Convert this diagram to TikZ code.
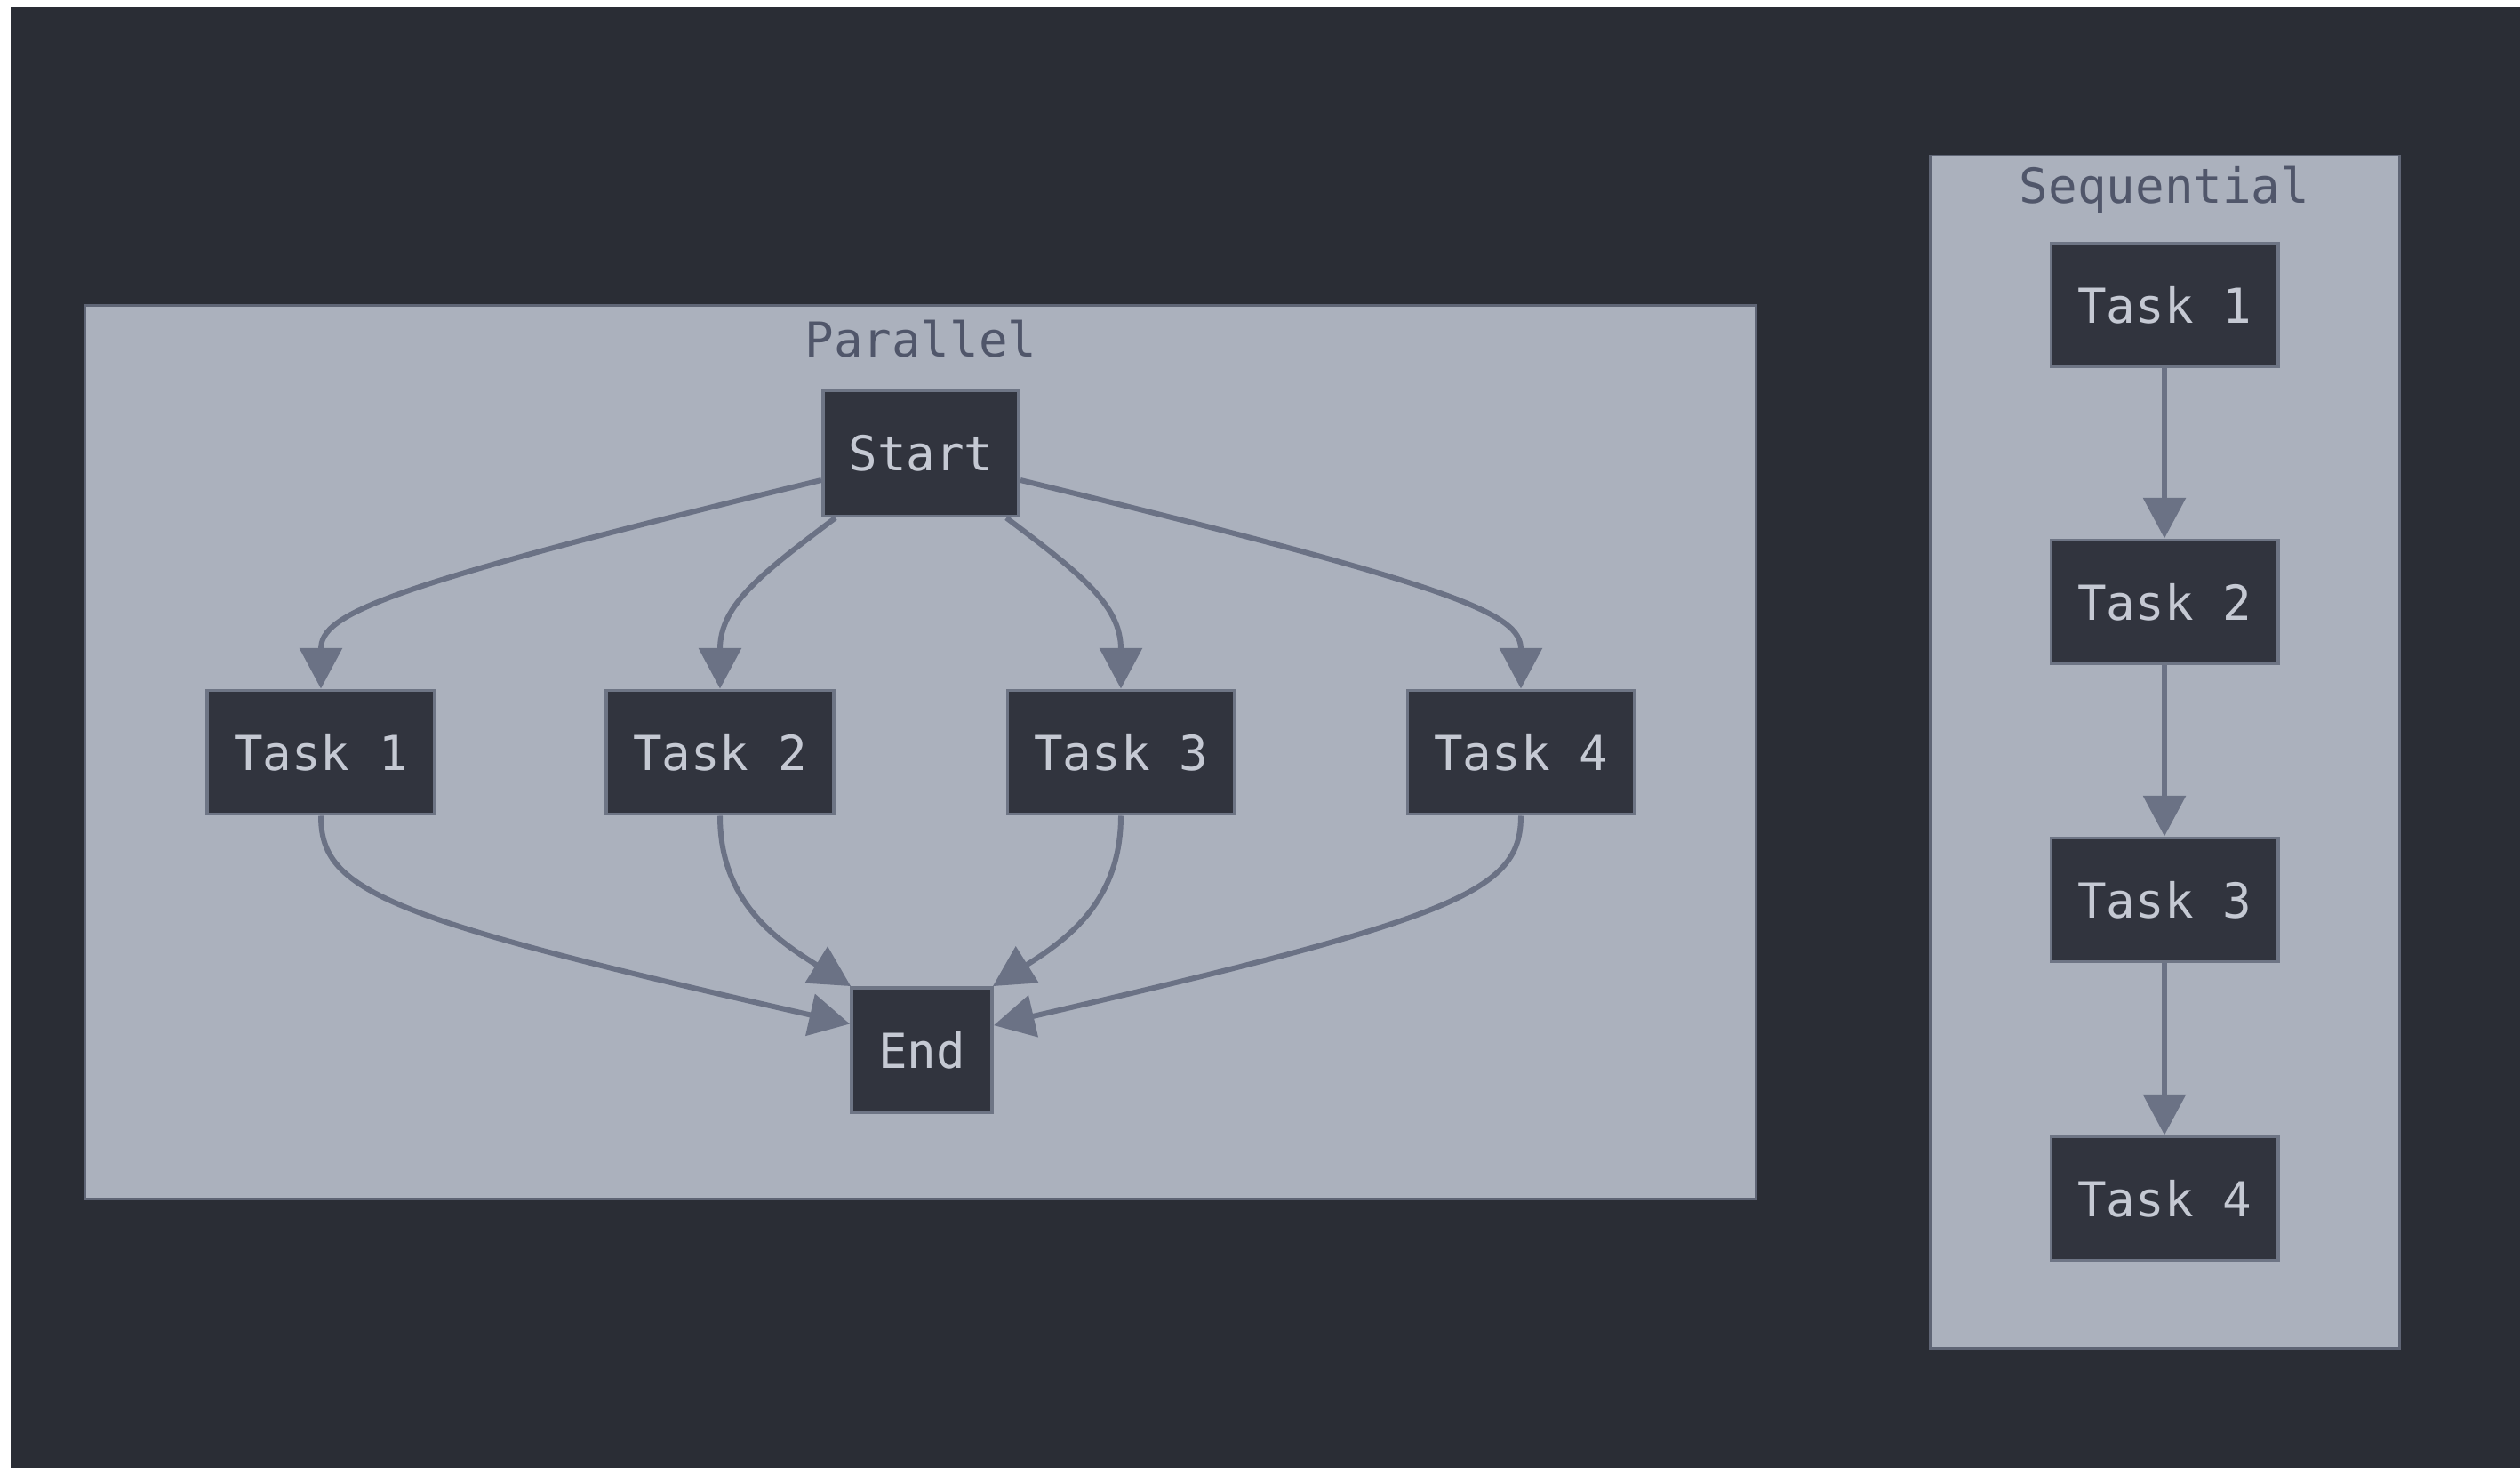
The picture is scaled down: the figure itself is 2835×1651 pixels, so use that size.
\documentclass[tikz,border=0pt]{standalone}
\usepackage{fontspec}
\setmonofont{DejaVu Sans Mono}
\usetikzlibrary{arrows.meta}
\definecolor{bgdark}{HTML}{2A2D35}
\definecolor{clfill}{HTML}{ABB1BD}
\definecolor{cldraw}{HTML}{5F6575}
\definecolor{ndfill}{HTML}{31343E}
\definecolor{nddraw}{HTML}{6E7585}
\definecolor{ndtext}{HTML}{C5C9D3}
\definecolor{cltext}{HTML}{50566A}
\definecolor{edgecol}{HTML}{6B7285}
\tikzset{
  cluster/.style={fill=clfill, draw=cldraw, line width=0.85pt},
  cltitle/.style={text=cltext, font=\ttfamily\fontsize{15.4}{18}\selectfont, inner sep=0pt},
  taskbox/.style={rectangle, fill=ndfill, draw=nddraw, line width=1.1pt, text=ndtext,
    font=\ttfamily\fontsize{15.4}{18}\selectfont, minimum width=2.55cm, minimum height=1.39cm, inner sep=0pt},
  flow/.style={draw=edgecol, line width=1.7pt, -{Triangle[length=13pt, width=13.4pt]}}
}
\begin{document}
\begin{tikzpicture}[x=0.01cm, y=-0.01cm]
\useasboundingbox (0,0) rectangle (2835,1651);
\fill[white] (0,0) rectangle (2835,1651);
\fill[bgdark] (12,8) rectangle (2835,1651);
% clusters
\draw[cluster] (96,343) rectangle (1975,1348);
\node[cltitle] (ptitle) at (1036,381) {Parallel};
\draw[cluster] (2171,175) rectangle (2699,1516);
\node[cltitle] (stitle) at (2435,213) {Sequential};
% parallel nodes
\node[taskbox, minimum width=2.2cm, minimum height=1.41cm] (start) at (1036,510) {Start};
\node[taskbox] (p1) at (361,846) {Task 1};
\node[taskbox] (p2) at (810,846) {Task 2};
\node[taskbox] (p3) at (1261,846) {Task 3};
\node[taskbox] (p4) at (1711,846) {Task 4};
\node[taskbox, minimum width=1.58cm, minimum height=1.4cm] (end) at (1037,1181) {End};
% sequential nodes
\node[taskbox] (s1) at (2435,343) {Task 1};
\node[taskbox] (s2) at (2435,677) {Task 2};
\node[taskbox] (s3) at (2435,1012) {Task 3};
\node[taskbox] (s4) at (2435,1348) {Task 4};
% parallel edges
\draw[flow] (start.195) .. controls (430,660) and (361,690) .. (p1.north);
\draw[flow] (start.217) .. controls (857,645) and (810,680) .. (p2.north);
\draw[flow] (start.-37) .. controls (1215,645) and (1261,680) .. (p3.north);
\draw[flow] (start.-15) .. controls (1642,660) and (1711,690) .. (p4.north);
\draw[flow] (p1.south) .. controls (361,1002) and (430,1032) .. (end.160.5);
\draw[flow] (p2.south) .. controls (810,1012) and (870,1055) .. (end.138);
\draw[flow] (p3.south) .. controls (1261,1012) and (1203,1055) .. (end.42);
\draw[flow] (p4.south) .. controls (1711,1002) and (1642,1032) .. (end.19.5);
% sequential edges
\draw[flow] (s1) -- (s2);
\draw[flow] (s2) -- (s3);
\draw[flow] (s3) -- (s4);
\end{tikzpicture}
\end{document}
